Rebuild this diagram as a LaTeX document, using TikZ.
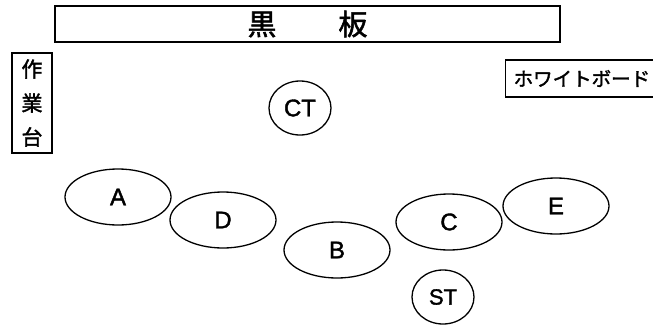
\documentclass[tikz,border=0pt]{standalone}
\usepackage{fontspec}
\setmainfont{Liberation Sans}[FakeBold=1.6]
\newfontfamily\jp{Noto Sans CJK JP}[FakeBold=1.8]
\usetikzlibrary{shapes.geometric}

\begin{document}
\begin{tikzpicture}[x=1pt,y=-1pt,line width=1.3pt]
					\tikzstyle{seat}=[ellipse,draw=black,inner sep=0pt,minimum width=106pt,minimum height=56pt,font=\fontsize{24}{24}\selectfont]
					\tikzstyle{teacher}=[ellipse,draw=black,inner sep=0pt,minimum width=62pt,minimum height=54pt,font=\fontsize{24}{24}\selectfont]
					\tikzstyle{board}=[rectangle,draw=black,inner sep=0pt]
					\useasboundingbox (0,0) rectangle (653,324);
					\node[board,minimum width=505pt,minimum height=36pt,font=\jp\fontsize{29}{29}\selectfont](kokuban) at (307.5,24) {黒\hspace{62pt}板};
					\node[board,minimum width=40pt,minimum height=100pt,align=center,font=\jp\fontsize{21}{34}\selectfont](sagyodai) at (32,103) {作\\業\\台};
					\node[board,anchor=west,minimum height=37pt,inner xsep=8pt,font=\jp\fontsize{19.5}{19.5}\selectfont](wb) at (505,78.5) {ホワイトボード};
					\node[teacher](ct) at (300,108) {CT};
					\node[seat](a) at (118,197) {A};
					\node[seat](d) at (223,220) {D};
					\node[seat](b) at (337,250) {B};
					\node[seat](c) at (449,222) {C};
					\node[seat](e) at (556,206) {E};
					\node[teacher,font=\fontsize{22}{22}\selectfont](st) at (443,297) {ST};
				\end{tikzpicture}
\end{document}
